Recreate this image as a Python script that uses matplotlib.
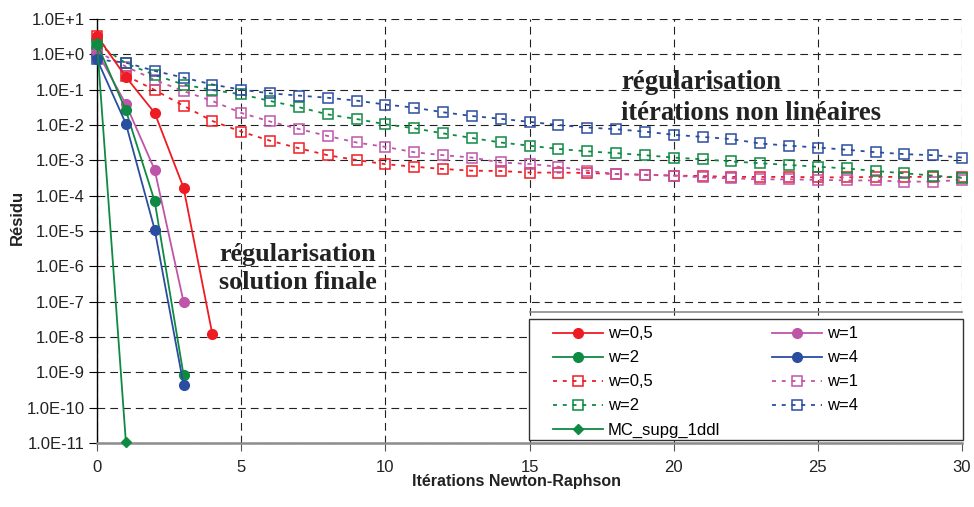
import math
import matplotlib
matplotlib.use("Agg")
import matplotlib.pyplot as plt
from matplotlib.patches import Rectangle
from matplotlib.ticker import FixedLocator, FuncFormatter, NullLocator

# Newton-Raphson iterations
iterations = list(range(31))
iter_final_05 = [0, 1, 2, 3, 4]
iter_final = [0, 1, 2, 3]
iter_mc = [0, 1]

# regularisation on the final solution (solid lines, filled circles)
final_w05 = [3.3, 0.23, 0.022, 1.7e-4, 1.2e-8]
final_w1 = [1.2, 0.039, 5.4e-4, 1.0e-7]
final_w2 = [2.0, 0.026, 7.0e-5, 8.5e-10]
final_w4 = [0.72, 0.011, 1.1e-5, 4.5e-10]
mc_supg_1ddl = [2.1, 1.1e-11]

# regularisation of the non linear iterations (dotted lines, open squares)
nl_w05 = [3.3, 0.25, 0.098, 0.035, 0.013, 0.0065, 0.0036, 0.0022, 0.0014, 0.00102,
          0.00078, 0.00066, 0.00057, 0.00051, 5.0e-4, 4.5e-4, 4.5e-4, 4.4e-4, 4.1e-4,
          3.9e-4, 3.7e-4, 3.6e-4, 3.4e-4, 3.4e-4, 3.4e-4, 3.3e-4, 3.3e-4, 3.4e-4,
          3.4e-4, 3.4e-4, 3.3e-4]
nl_w1 = [1.2, 0.45, 0.19, 0.091, 0.048, 0.022, 0.0126, 0.0077, 0.0049, 0.0032,
         0.0024, 0.0017, 0.0014, 0.0012, 8.7e-4, 7.9e-4, 6.6e-4, 5.1e-4, 4.1e-4,
         3.9e-4, 3.7e-4, 3.3e-4, 3.1e-4, 2.9e-4, 2.9e-4, 2.8e-4, 2.7e-4, 2.7e-4,
         2.5e-4, 2.5e-4, 2.8e-4]
nl_w2 = [2.0, 0.56, 0.26, 0.14, 0.098, 0.074, 0.048, 0.032, 0.020, 0.0148,
         0.0105, 0.0081, 0.0058, 0.0043, 0.0032, 0.0026, 0.0021, 0.0018, 0.0016,
         0.0014, 0.0012, 0.00107, 0.00093, 0.00083, 0.00074, 0.00066, 0.00059,
         0.00050, 0.00043, 0.00037, 0.00032]
nl_w4 = [0.72, 0.58, 0.34, 0.22, 0.14, 0.10, 0.079, 0.068, 0.059, 0.049,
         0.038, 0.031, 0.023, 0.018, 0.015, 0.0123, 0.010, 0.0085, 0.0076,
         0.0065, 0.0053, 0.0046, 0.0040, 0.0030, 0.0026, 0.0023, 0.0020, 0.0017,
         0.0015, 0.0014, 0.0012]

x_ticks = [0, 5, 10, 15, 20, 25, 30]
y_exponents = list(range(-11, 2))

RED = '#ED1C24'
MAGENTA = '#BF55A8'
GREEN = '#0E8A43'
BLUE = '#2B4DA0'

fig = plt.figure(figsize=(9.74, 5.07), dpi=100)
ax = fig.add_axes([0.0996, 0.1262, 0.8881, 0.8363])
ax.set_yscale('log')

dotted = (0, (2.2, 3.2))
handles = {}

# dotted series first, solid ones drawn above them
for name, vals, col in [('nl05', nl_w05, RED), ('nl1', nl_w1, MAGENTA),
                        ('nl2', nl_w2, GREEN), ('nl4', nl_w4, BLUE)]:
    handles[name], = ax.plot(iterations, vals, color=col, linestyle=dotted, lw=1.3,
                             marker='s', markersize=7, markerfacecolor='none',
                             markeredgecolor=col, markeredgewidth=1.1, clip_on=False,
                             zorder=3)

for name, xs, vals, col in [('f05', iter_final_05, final_w05, RED),
                            ('f1', iter_final, final_w1, MAGENTA),
                            ('f2', iter_final, final_w2, GREEN),
                            ('f4', iter_final, final_w4, BLUE)]:
    handles[name], = ax.plot(xs, vals, color=col, lw=1.3, marker='o', markersize=7,
                             markeredgecolor=col, clip_on=False, zorder=4)

handles['mc'], = ax.plot(iter_mc, mc_supg_1ddl, color=GREEN, lw=1.3, marker='D',
                         markersize=5, clip_on=False, zorder=4)

ax.set_xlim(0, 30)
ax.set_ylim(1e-11, 10)
ax.xaxis.set_major_locator(FixedLocator(x_ticks))
ax.yaxis.set_major_locator(FixedLocator([10.0 ** e for e in y_exponents]))
ax.yaxis.set_minor_locator(NullLocator())
ax.yaxis.set_major_formatter(FuncFormatter(
    lambda v, pos: "1.0E%+d" % round(math.log10(v))))

ax.grid(True, color='#222222', linestyle=(0, (7, 4.5)), linewidth=0.8)
ax.set_axisbelow(True)
for side in ['top', 'right']:
    ax.spines[side].set_visible(False)
ax.spines['left'].set_color('black')
ax.spines['left'].set_linewidth(1.0)
ax.spines['bottom'].set_color('#8c8c8c')
ax.spines['bottom'].set_linewidth(1.8)

ax.tick_params(axis='y', direction='out', length=6, width=0.8, pad=3,
               labelsize=12, labelcolor='#222222')
ax.tick_params(axis='x', direction='out', length=6, width=0.8, pad=6,
               labelsize=12, labelcolor='#222222', color='#555555')

for lab in ax.get_xticklabels() + ax.get_yticklabels():
    lab.set_fontfamily('Liberation Sans')

fig.text(17 / 974, 1 - 217 / 507, 'Résidu', rotation=90, ha='center', va='center',
         fontsize=12, fontweight='bold', family='Liberation Sans', color='#222222')
fig.text(516 / 974, 1 - 486 / 507, 'Itérations Newton-Raphson', ha='center',
         va='baseline', fontsize=11.5, fontweight='bold', family='Liberation Sans',
         color='#222222')

fig.text(219 / 974, 1 - 243 / 507, 'régularisation\nsolution finale', ha='left',
         va='top', fontsize=18.8, fontweight='bold', family='Liberation Serif',
         color='#222222', linespacing=1.3)
fig.text(621 / 974, 1 - 70 / 507, 'régularisation\nitérations non linéaires',
         ha='left', va='top', fontsize=19.2, fontweight='bold',
         family='Liberation Serif', color='#222222', linespacing=1.3)

# legend frame as in the original: wider than its content
ax.add_patch(Rectangle((0.4994, 0.007), 0.5018, 0.2855, transform=ax.transAxes,
                       facecolor='white', edgecolor='#333333', lw=1.0,
                       clip_on=False, zorder=5))

order = ['f05', 'f2', 'nl05', 'nl2', 'mc', 'f1', 'f4', 'nl1', 'nl4']
labels = {'f05': 'w=0,5', 'f1': 'w=1', 'f2': 'w=2', 'f4': 'w=4',
          'nl05': 'w=0,5', 'nl1': 'w=1', 'nl2': 'w=2', 'nl4': 'w=4',
          'mc': 'MC_supg_1ddl'}
leg = ax.legend([handles[k] for k in order], [labels[k] for k in order], ncol=2,
                loc='upper left', bbox_to_anchor=(0.5272, 0.275),
                borderaxespad=0, borderpad=0, frameon=False,
                handlelength=3.0, handletextpad=0.3, labelspacing=0.54,
                columnspacing=3.1,
                prop={'family': 'Liberation Sans', 'size': 12})
leg.set_zorder(6)

# stray axis line drawn above the legend box in the original
ax.plot([0.5, 1.0], [0.309, 0.309], transform=ax.transAxes, color='#8c8c8c',
        lw=1.2, clip_on=False, zorder=6)

fig.savefig('out.png', dpi=100)
